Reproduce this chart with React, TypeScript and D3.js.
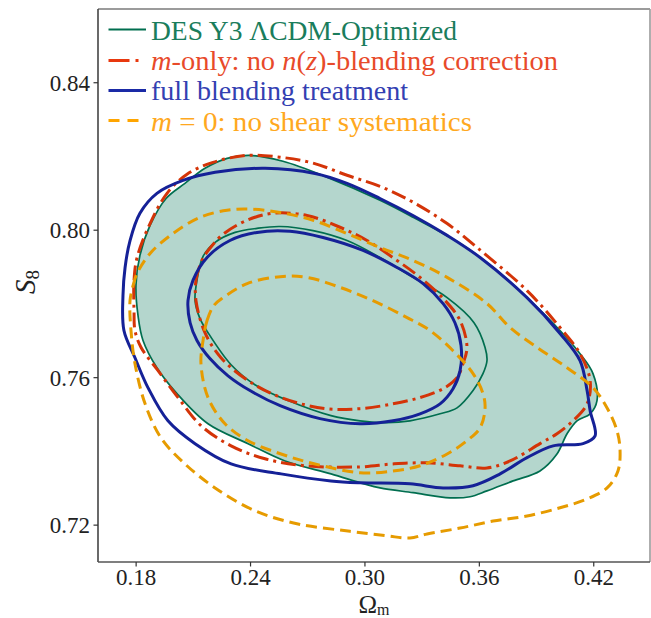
import React from "react";
import * as d3 from "d3";

// Omega_m, S8 contour vertices
const desOuter: [number, number][] = [
  [0.1810, 0.7768], [0.1799, 0.7850], [0.1820, 0.7932], [0.1873, 0.8013], [0.1957, 0.8086],
  [0.2056, 0.8127], [0.2161, 0.8168], [0.2277, 0.8195], [0.2397, 0.8203], [0.2570, 0.8187],
  [0.2791, 0.8146], [0.3079, 0.8081], [0.3252, 0.8035], [0.3499, 0.7964], [0.3672, 0.7899],
  [0.3850, 0.7817], [0.4023, 0.7728], [0.4128, 0.7665], [0.4196, 0.7611], [0.4217, 0.7538],
  [0.4181, 0.7502], [0.4112, 0.7483], [0.4060, 0.7448], [0.4007, 0.7393], [0.3918, 0.7347],
  [0.3777, 0.7320], [0.3640, 0.7293], [0.3551, 0.7277], [0.3446, 0.7274], [0.3252, 0.7288],
  [0.3079, 0.7301], [0.2995, 0.7312], [0.2822, 0.7339], [0.2581, 0.7374], [0.2387, 0.7421],
  [0.2177, 0.7475], [0.2014, 0.7557], [0.1909, 0.7627], [0.1836, 0.7701],
];
const desInner: [number, number][] = [
  [0.2109, 0.7809], [0.2119, 0.7864], [0.2151, 0.7929], [0.2214, 0.7967], [0.2319, 0.7994],
  [0.2434, 0.8005], [0.2555, 0.8010], [0.2728, 0.7999], [0.2906, 0.7972], [0.3079, 0.7926],
  [0.3252, 0.7872], [0.3431, 0.7817], [0.3572, 0.7749], [0.3630, 0.7682], [0.3640, 0.7646],
  [0.3619, 0.7611], [0.3567, 0.7565], [0.3483, 0.7518], [0.3394, 0.7502], [0.3236, 0.7483],
  [0.3116, 0.7478], [0.2974, 0.7483], [0.2822, 0.7497], [0.2597, 0.7538], [0.2423, 0.7581],
  [0.2298, 0.7635], [0.2177, 0.7722], [0.2135, 0.7760],
];
const fullOuter: [number, number][] = [
  [0.1736, 0.7728], [0.1731, 0.7823], [0.1742, 0.7899], [0.1768, 0.7972], [0.1820, 0.8046],
  [0.1909, 0.8100], [0.2046, 0.8135], [0.2214, 0.8157], [0.2476, 0.8168], [0.2738, 0.8154],
  [0.2906, 0.8127], [0.3079, 0.8086], [0.3252, 0.8040], [0.3431, 0.7986], [0.3604, 0.7926],
  [0.3850, 0.7817], [0.4023, 0.7720], [0.4128, 0.7646], [0.4165, 0.7565], [0.4181, 0.7510],
  [0.4207, 0.7442], [0.4144, 0.7421], [0.3987, 0.7415], [0.3850, 0.7383], [0.3709, 0.7339],
  [0.3567, 0.7307], [0.3410, 0.7301], [0.3236, 0.7312], [0.2974, 0.7315], [0.2822, 0.7320],
  [0.2560, 0.7339], [0.2298, 0.7366], [0.2109, 0.7421], [0.1967, 0.7483], [0.1862, 0.7573],
  [0.1794, 0.7654],
];
const fullInner: [number, number][] = [
  [0.2072, 0.7809], [0.2098, 0.7864], [0.2172, 0.7926], [0.2292, 0.7972], [0.2434, 0.7994],
  [0.2607, 0.7997], [0.2780, 0.7980], [0.2990, 0.7945], [0.3168, 0.7899], [0.3305, 0.7855],
  [0.3410, 0.7801], [0.3472, 0.7749], [0.3504, 0.7687], [0.3499, 0.7619], [0.3462, 0.7570],
  [0.3394, 0.7529], [0.3289, 0.7502], [0.3147, 0.7483], [0.2974, 0.7475], [0.2764, 0.7489],
  [0.2555, 0.7524], [0.2397, 0.7565], [0.2282, 0.7605], [0.2187, 0.7652], [0.2119, 0.7701],
  [0.2083, 0.7749],
];
const mOnlyOuter: [number, number][] = [
  [0.1789, 0.7782], [0.1789, 0.7864], [0.1805, 0.7926], [0.1873, 0.8018], [0.1962, 0.8100],
  [0.2067, 0.8152], [0.2203, 0.8184], [0.2382, 0.8203], [0.2555, 0.8198], [0.2728, 0.8182],
  [0.2906, 0.8149], [0.3079, 0.8119], [0.3252, 0.8076], [0.3431, 0.8018], [0.3588, 0.7953],
  [0.3850, 0.7836], [0.4023, 0.7736], [0.4128, 0.7665], [0.4181, 0.7592], [0.4165, 0.7529],
  [0.4091, 0.7483], [0.4007, 0.7448], [0.3918, 0.7421], [0.3761, 0.7374], [0.3640, 0.7355],
  [0.3499, 0.7361], [0.3326, 0.7369], [0.3147, 0.7366], [0.2974, 0.7358], [0.2686, 0.7361],
  [0.2476, 0.7380], [0.2298, 0.7415], [0.2140, 0.7470], [0.2020, 0.7546], [0.1915, 0.7619],
  [0.1826, 0.7682], [0.1794, 0.7728],
];
const mOnlyInner: [number, number][] = [
  [0.2114, 0.7809], [0.2114, 0.7864], [0.2145, 0.7918], [0.2187, 0.7951], [0.2256, 0.7989],
  [0.2382, 0.8027], [0.2518, 0.8046], [0.2696, 0.8040], [0.2869, 0.8008], [0.3011, 0.7972],
  [0.3168, 0.7918], [0.3289, 0.7872], [0.3410, 0.7815], [0.3499, 0.7755], [0.3535, 0.7682],
  [0.3514, 0.7638], [0.3483, 0.7600], [0.3410, 0.7570], [0.3289, 0.7546], [0.3147, 0.7529],
  [0.2974, 0.7516], [0.2791, 0.7516], [0.2560, 0.7546], [0.2387, 0.7592], [0.2245, 0.7654],
  [0.2161, 0.7722],
];
const m0Outer: [number, number][] = [
  [0.1768, 0.7809], [0.1784, 0.7850], [0.1805, 0.7883], [0.1873, 0.7937], [0.1993, 0.7991],
  [0.2135, 0.8035], [0.2277, 0.8054], [0.2397, 0.8057], [0.2555, 0.8048], [0.2728, 0.8027],
  [0.2906, 0.7991], [0.3079, 0.7953], [0.3252, 0.7918], [0.3431, 0.7872], [0.3640, 0.7801],
  [0.3761, 0.7736], [0.3903, 0.7682], [0.4060, 0.7627], [0.4196, 0.7573], [0.4270, 0.7518],
  [0.4322, 0.7456], [0.4338, 0.7402], [0.4327, 0.7347], [0.4270, 0.7301], [0.4165, 0.7271],
  [0.4023, 0.7247], [0.3850, 0.7225], [0.3672, 0.7211], [0.3499, 0.7192], [0.3326, 0.7176],
  [0.3236, 0.7165], [0.3116, 0.7171], [0.2911, 0.7184], [0.2649, 0.7203], [0.2423, 0.7239],
  [0.2214, 0.7301], [0.2056, 0.7366], [0.1930, 0.7437], [0.1847, 0.7529], [0.1794, 0.7638],
  [0.1773, 0.7728],
];
const m0Inner: [number, number][] = [
  [0.2151, 0.7701], [0.2172, 0.7755], [0.2208, 0.7796], [0.2256, 0.7817], [0.2382, 0.7855],
  [0.2555, 0.7874], [0.2696, 0.7872], [0.2869, 0.7845], [0.3042, 0.7809], [0.3221, 0.7763],
  [0.3341, 0.7728], [0.3462, 0.7673], [0.3567, 0.7611], [0.3619, 0.7557], [0.3630, 0.7518],
  [0.3604, 0.7464], [0.3535, 0.7429], [0.3431, 0.7393], [0.3289, 0.7361], [0.3147, 0.7347],
  [0.2974, 0.7342], [0.2738, 0.7366], [0.2560, 0.7393], [0.2387, 0.7429], [0.2266, 0.7475],
  [0.2177, 0.7546], [0.2140, 0.7638],
];

const xTicks = [0.18, 0.24, 0.3, 0.36, 0.42];
const yTicks = [0.72, 0.76, 0.8, 0.84];

const W = 651, H = 618;
const L = 98, R = 650, T = 9, B = 562;

const x = d3.scaleLinear().domain([0.16, 0.4495]).range([L, R]);
const y = d3.scaleLinear().domain([0.71, 0.86]).range([B, T]);

const line = d3
  .line<[number, number]>()
  .x((d) => x(d[0]))
  .y((d) => y(d[1]))
  .curve(d3.curveCatmullRomClosed.alpha(0.5));

const FONT = "Liberation Serif, DejaVu Serif, serif";
const ts = { fontFamily: FONT } as React.CSSProperties;

const C = {
  fill: "#b4d6cd",
  green: "#006e4f",
  red: "#d43408",
  blue: "#152197",
  orange: "#e69b00",
  greenText: "#1a7d5c",
  redText: "#e84a2a",
  blueText: "#3340b2",
  orangeText: "#ffa820",
  redLeg: "#e8380e",
  blueLeg: "#1a2aa6",
  orangeLeg: "#ffa500",
};

const RED_DASH = "15,5,3,5";
const ORANGE_DASH = "11,6";

export default function App() {
  return (
    <svg
      width={W}
      height={H}
      style={{ position: "absolute", left: 0, top: 0, background: "#fff", fontFamily: FONT }}
    >
      {/* filled DES contours */}
      <path d={line(desOuter) || ""} fill={C.fill} stroke="none" />
      <path d={line(desInner) || ""} fill={C.fill} stroke="none" />
      <path d={line(desOuter) || ""} fill="none" stroke={C.green} strokeWidth={1.7} />
      <path d={line(desInner) || ""} fill="none" stroke={C.green} strokeWidth={1.7} />

      {/* m-only */}
      <path d={line(mOnlyOuter) || ""} fill="none" stroke={C.red} strokeWidth={3} strokeDasharray={RED_DASH} />
      <path d={line(mOnlyInner) || ""} fill="none" stroke={C.red} strokeWidth={3} strokeDasharray={RED_DASH} />

      {/* full blending */}
      <path d={line(fullOuter) || ""} fill="none" stroke={C.blue} strokeWidth={3} />
      <path d={line(fullInner) || ""} fill="none" stroke={C.blue} strokeWidth={3} />

      {/* m = 0 */}
      <path d={line(m0Outer) || ""} fill="none" stroke={C.orange} strokeWidth={3} strokeDasharray={ORANGE_DASH} />
      <path d={line(m0Inner) || ""} fill="none" stroke={C.orange} strokeWidth={3} strokeDasharray={ORANGE_DASH} />

      {/* frame */}
      <line x1={L} x2={R} y1={T} y2={T} stroke="#7a7a7a" strokeWidth={1.6} />
      <line x1={R} x2={R} y1={T} y2={B} stroke="#9a9a9a" strokeWidth={1.6} />
      <line x1={L} x2={L} y1={T} y2={B} stroke="#444" strokeWidth={1.6} />
      <line x1={L} x2={R} y1={B} y2={B} stroke="#555" strokeWidth={1.6} />

      {/* x ticks */}
      {xTicks.map((t) => (
        <g key={"x" + t}>
          <line x1={x(t)} x2={x(t)} y1={B} y2={B + 4.5} stroke="#333" strokeWidth={1.2} />
          <text x={x(t)} y={585} textAnchor="middle" fontSize={23} fill="#222" style={ts}>
            {t.toFixed(2)}
          </text>
        </g>
      ))}
      {/* y ticks */}
      {yTicks.map((t) => (
        <g key={"y" + t}>
          <line x1={L - 4.5} x2={L} y1={y(t)} y2={y(t)} stroke="#333" strokeWidth={1.2} />
          <text x={90} y={y(t) + 8} textAnchor="end" fontSize={23} fill="#222" style={ts}>
            {t.toFixed(2)}
          </text>
        </g>
      ))}

      {/* axis labels */}
      <text x={374} y={612.5} textAnchor="middle" fontSize={25} fill="#222" style={ts}>
        Ω<tspan fontSize={16} dy={2}>m</tspan>
      </text>
      <text transform="translate(35,282) rotate(-90)" textAnchor="middle" fontSize={29} fill="#222" style={ts}>
        <tspan fontStyle="italic">S</tspan>
        <tspan fontSize={19} dy={4}>8</tspan>
      </text>

      {/* legend */}
      <line x1={108.5} x2={146} y1={29.5} y2={29.5} stroke={C.green} strokeWidth={2.2} />
      <text x={151} y={39.5} fontSize={27} fill={C.greenText} textLength={306} lengthAdjust="spacingAndGlyphs" style={ts}>
        DES Y3 ΛCDM-Optimized
      </text>

      <line x1={108.5} x2={146} y1={60.5} y2={60.5} stroke={C.redLeg} strokeWidth={3} strokeDasharray="21,6,3,20" />
      <text x={151} y={70} fontSize={27} fill={C.redText} textLength={407} lengthAdjust="spacingAndGlyphs" style={ts}>
        <tspan fontStyle="italic">m</tspan>-only: no <tspan fontStyle="italic">n</tspan>(<tspan fontStyle="italic">z</tspan>)-blending correction
      </text>

      <line x1={108.5} x2={146} y1={90.5} y2={90.5} stroke={C.blueLeg} strokeWidth={3} />
      <text x={151} y={100} fontSize={27} fill={C.blueText} textLength={257} lengthAdjust="spacingAndGlyphs" style={ts}>
        full blending treatment
      </text>

      <line x1={108.5} x2={146} y1={120.5} y2={120.5} stroke={C.orangeLeg} strokeWidth={3} strokeDasharray="11,8" />
      <text x={151} y={130.5} fontSize={27} fill={C.orangeText} textLength={321} lengthAdjust="spacingAndGlyphs" style={ts}>
        <tspan fontStyle="italic">m</tspan> = 0: no shear systematics
      </text>
    </svg>
  );
}
